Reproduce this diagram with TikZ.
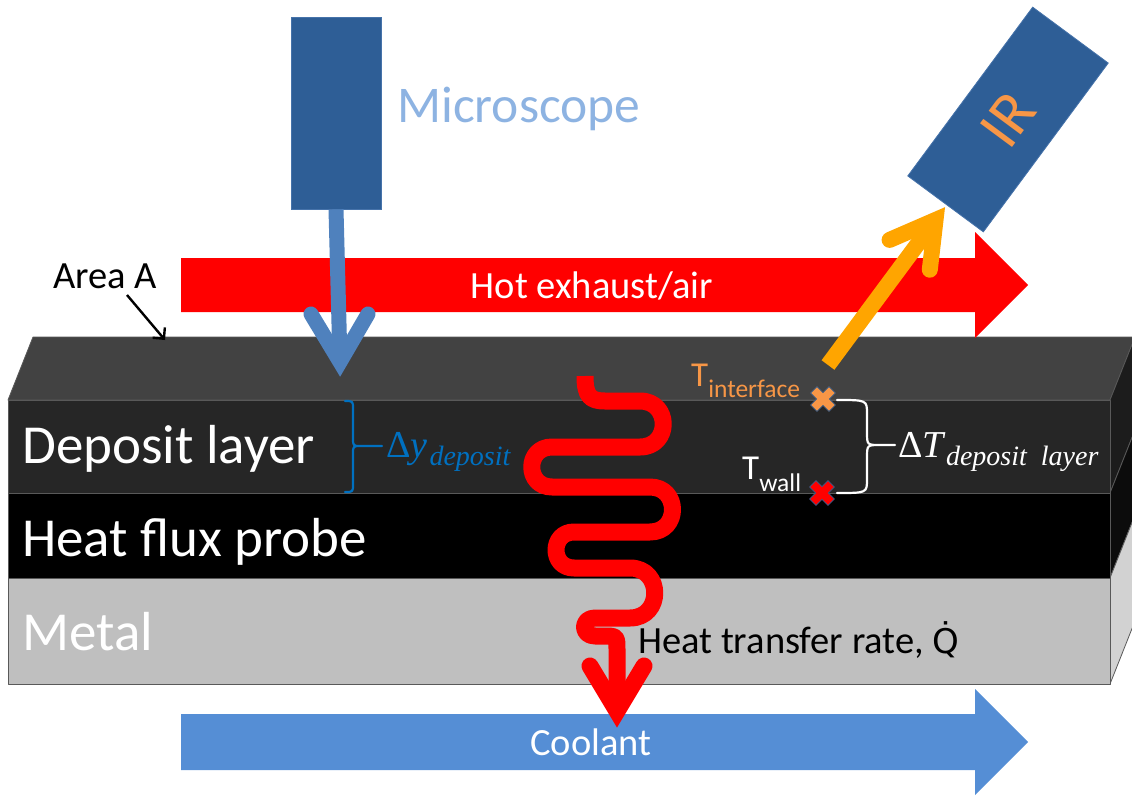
\documentclass[tikz,border=0pt]{standalone}
\usepackage{fontspec}
\setmainfont{Carlito}
\newfontfamily\mathlike{Liberation Serif}
\newfontfamily\accentfont{DejaVu Sans}
\usetikzlibrary{arrows.meta}

\newcommand\setfs[1]{\fontsize{#1}{#1}\selectfont}

\definecolor{instr}{RGB}{46,94,150}
\definecolor{instredge}{RGB}{70,115,170}
\definecolor{miclbl}{RGB}{141,179,226}
\definecolor{micarrow}{RGB}{79,129,189}
\definecolor{hotred}{RGB}{255,0,0}
\definecolor{irorange}{RGB}{247,150,70}
\definecolor{beam}{RGB}{255,165,0}
\definecolor{cool}{RGB}{85,142,213}
\definecolor{dyblue}{RGB}{0,112,192}
\definecolor{topface}{RGB}{66,66,66}
\definecolor{depfront}{RGB}{38,38,38}
\definecolor{depside}{RGB}{28,28,28}
\definecolor{probeside}{RGB}{12,12,12}
\definecolor{metalfront}{RGB}{191,191,191}
\definecolor{metalside}{RGB}{210,210,210}
\definecolor{xline}{RGB}{56,93,138}

\tikzset{
  face/.style={draw=black!65, line width=0.8pt, line join=round},
  bigtxt/.style={font={\setfs{55}}, text=white, inner sep=0pt, anchor=base west},
  lbl/.style={font={\setfs{38.5}}, inner sep=0pt, anchor=base west},
  flowtxt/.style={font={\setfs{38.5}}, text=white, inner sep=0pt, anchor=base},
  instrbox/.style={fill=instr, draw=instredge, line width=0.8pt, inner sep=0pt},
  fatline/.style={line width=#1, line cap=round, line join=miter, miter limit=10},
  bracepath/.style={line width=2.2pt, line cap=round, line join=round},
  xcross/.pic={
    \filldraw[draw=xline, line width=0.6pt, rotate=45, pic actions]
      (4.5,13) -- (4.5,4.5) -- (13,4.5) -- (13,-4.5) -- (4.5,-4.5) -- (4.5,-13)
      -- (-4.5,-13) -- (-4.5,-4.5) -- (-13,-4.5) -- (-13,4.5) -- (-4.5,4.5)
      -- (-4.5,13) -- cycle;
  }
}

% symbol with italic subscript, set in a serif face
\newcommand\symsub[2]{{\mathlike\setfs{38}#1\raisebox{-8pt}{\setfs{28}\itshape #2}}}

\begin{document}
\begin{tikzpicture}[x=1pt,y=-1pt]
\useasboundingbox (0,0) rectangle (1132,795);
\begin{scope}
\clip (0,0) rectangle (1132,795);

% --- layered slab: top face, right side faces, front faces
\filldraw[face, fill=topface] (8,400) -- (33,337) -- (1135,337) -- (1110,400) -- cycle;
\filldraw[face, fill=depside] (1110,400) -- (1135,337) -- (1135,430) -- (1110,493) -- cycle;
\filldraw[face, fill=probeside] (1110,493) -- (1135,430) -- (1135,515) -- (1110,578) -- cycle;
\filldraw[face, fill=metalside] (1110,578) -- (1135,515) -- (1135,621) -- (1110,684) -- cycle;
\filldraw[face, fill=depfront] (8,400) rectangle (1110,493);
\filldraw[face, fill=black] (8,493) rectangle (1110,578);
\filldraw[face, fill=metalfront] (8,578) rectangle (1110,684);

\node[bigtxt] (deplbl) at (22,463) {Deposit layer};
\node[bigtxt] (probelbl) at (22,556) {Heat flux probe};
\node[bigtxt] (metallbl) at (22,650) {Metal};

% --- gas and coolant streams
\fill[hotred] (181,258) -- (975,258) -- (975,232) -- (1028,285) -- (975,338) -- (975,312) -- (181,312) -- cycle;
\node[flowtxt] (hot) at (592,298) {Hot exhaust/air};
\fill[cool] (181,714) -- (975,714) -- (975,689) -- (1028,742) -- (975,795) -- (975,770) -- (181,770) -- cycle;
\node[flowtxt] (coolant) at (591,755) {Coolant};

% --- area label
\node[lbl] (areaA) at (53,288) {Area A};
\coordinate (aAtail) at (127,295);
\coordinate (aAhead) at (165,340);
\draw[line width=2.4pt, -{Straight Barb[length=8pt,width=16pt]}] (aAtail) -- (aAhead);

% --- microscope and its viewing arrow
\node[instrbox, minimum width=90pt, minimum height=192pt] (mic) at (336,113) {};
\node[lbl, font={\setfs{51.5}}, text=miclbl] (miclabel) at (397,122) {Microscope};
\coordinate (mtip) at (340,362);
\coordinate (mleft) at (311,314);
\coordinate (mright) at (368,314);
\draw[fatline=15pt, micarrow, line cap=butt] (mic.south) -- (mtip);
\draw[fatline=15pt, micarrow] (mleft) -- (mtip) -- (mright);

% --- IR camera and emitted radiation
\node[instrbox, rotate=53.5, minimum width=210pt, minimum height=94pt,
      text=irorange, font={\setfs{62}}] (ir) at (1008,119.5) {IR};
\coordinate (otail) at (828,365);
\coordinate (otip) at (935.5,220);
\coordinate (oleft) at (889.6,239.9);
\coordinate (oright) at (929.8,269.7);
\draw[fatline=16pt, beam, line cap=butt] (otail) -- (otip);
\draw[fatline=16pt, beam] (oleft) -- (otip) -- (oright);

% --- deposit thickness brace
\draw[bracepath, dyblue] (345,401) .. controls (353,401) .. (353,409) -- (353,438)
  .. controls (353,446) .. (361,446) -- (382,446) -- (361,446)
  .. controls (353,446) .. (353,454) -- (353,484) .. controls (353,492) .. (345,492);
\node[inner sep=0pt, anchor=base west, text=dyblue] (dylbl) at (386,457) {\symsub{Δ\textit{y}\kern2pt}{deposit}};

% --- temperature measurement points
\pic[fill=irorange] (xint) at (823,399) {xcross};
\pic[fill=hotred] (xwall) at (822,493) {xcross};
\node[inner sep=0pt, anchor=base west, text=irorange] (tint) at (691,386)
  {\setfs{35}T\raisebox{-11pt}{\setfs{25.5}interface}};
\node[inner sep=0pt, anchor=base west, text=white] (twall) at (742,479)
  {\setfs{35}T\raisebox{-12pt}{\setfs{25.5}wall}};
\draw[bracepath, white] (837,400) .. controls (867,400) .. (867,414) -- (867,432)
  .. controls (867,445) .. (880,445) -- (895,445) -- (880,445)
  .. controls (867,445) .. (867,458) -- (867,479) .. controls (867,493) .. (837,493);
\node[inner sep=0pt, anchor=base west, text=white] (dtlbl) at (898,457) {\symsub{Δ\textit{T}}{deposit\hspace{14pt}layer}};

% --- heat flow through the layers
\coordinate (qtop) at (585,376);
\coordinate (qtip) at (617,711);
\coordinate (qleft) at (590,666);
\coordinate (qright) at (644,666);
\draw[line width=17pt, hotred, line cap=butt, line join=round] (qtop)
  .. controls (585,396) and (590,401) .. (605,401) -- (640,401)
  .. controls (671,401) and (671,447) .. (640,447) -- (552,447)
  .. controls (525,447) and (525,487) .. (552,487) -- (650,487)
  .. controls (680,487) and (680,532) .. (650,532) -- (574,532)
  .. controls (550,532) and (550,568) .. (574,568) -- (630,568)
  .. controls (663,568) and (663,618) .. (630,618) -- (595,618)
  .. controls (581,618) and (581,636) .. (595,636) -- (603,636)
  .. controls (617,636) .. (617,650) -- (qtip);
\draw[fatline=17pt, hotred] (qleft) -- (qtip) -- (qright);
\node[lbl] (qlbl) at (638,653) {Heat transfer rate, {\accentfont\setfs{34}Q̇}};

\end{scope}
\end{tikzpicture}
\end{document}
